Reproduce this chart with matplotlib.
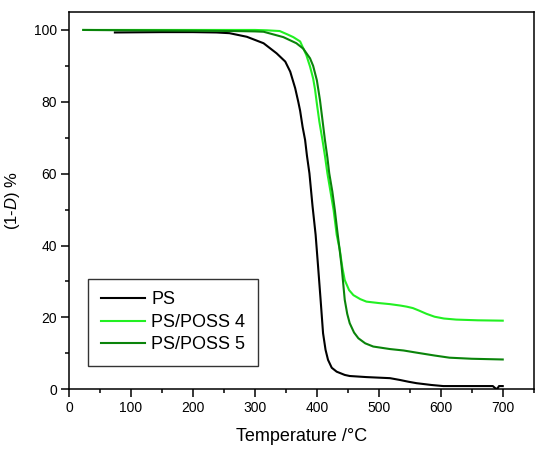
import matplotlib
matplotlib.use("Agg")
import matplotlib.pyplot as plt
from matplotlib.ticker import MultipleLocator

plt.rcParams['font.family'] = ['Liberation Sans', 'DejaVu Sans']
plt.rcParams['mathtext.fontset'] = 'custom'
plt.rcParams['mathtext.rm'] = 'Liberation Sans'
plt.rcParams['mathtext.it'] = 'Liberation Sans:italic'

# PS (black)
t_ps = [74, 150, 200, 238, 259, 287, 314, 335, 349, 357, 365, 370, 373, 377,
        381, 384, 388, 393, 398, 402, 406, 410, 414, 418, 424, 432, 445, 453, 480,
        518, 534, 548, 561, 585, 604, 640, 684, 688, 691, 694, 700]
v_ps = [99.3, 99.4, 99.4, 99.3, 99.1, 98.1, 96.3, 93.5, 91.2, 88.4, 83.8, 80, 77.5, 73,
        69.4, 65, 60.1, 51, 43, 34.1, 25, 15.6, 11, 8.2, 6.0, 4.9, 4.0, 3.7, 3.4,
        3.1, 2.6, 2.1, 1.7, 1.2, 0.9, 0.9, 0.9, 0.3, 0.1, 0.9, 0.9]

# PS/POSS 4 (bright green)
t_p4 = [23, 100, 200, 300, 319, 340, 352, 362, 373, 383, 389, 394, 397, 400, 404,
        409, 413, 417, 422, 427, 432, 437, 441, 445, 452, 459, 470, 480, 500, 518,
        535, 545, 555, 565, 577, 590, 605, 625, 660, 700]
v_p4 = [100, 100, 100, 100, 99.9, 99.7, 98.8, 98.0, 96.8, 93, 89.8, 86.5, 83.5, 79.5, 74.5,
        69.4, 65, 60.1, 55, 49.9, 43, 38.8, 34, 30.4, 27.6, 26.2, 25.1, 24.4, 24.0, 23.7,
        23.3, 23.0, 22.6, 21.9, 21.0, 20.2, 19.7, 19.4, 19.2, 19.1]

# PS/POSS 5 (dark green)
t_p5 = [23, 100, 200, 265, 300, 314, 346, 367, 378, 389, 394, 400, 405, 409, 413,
        417, 420, 425, 429, 433, 437, 440, 445, 449, 453, 460, 467, 478, 491, 518,
        540, 561, 590, 614, 650, 700]
v_p5 = [100, 99.9, 99.8, 99.7, 99.6, 99.5, 98.0, 96.3, 94.8, 92.1, 90, 86, 80.5, 75, 69.4,
        64.5, 60.1, 55, 49.9, 44, 38.5, 34.1, 24.9, 21, 18.4, 15.8, 14.2, 12.8, 11.9, 11.2,
        10.8, 10.2, 9.4, 8.8, 8.5, 8.3]

labels = ['PS', 'PS/POSS 4', 'PS/POSS 5']
colors = ['#000000', '#22f022', '#0a840a']

fig = plt.figure(figsize=(5.5, 4.54), dpi=100)
ax = fig.add_axes([0.1255, 0.1425, 0.8449, 0.8311])

ax.plot(t_ps, v_ps, color=colors[0], lw=1.5, label=labels[0])
ax.plot(t_p4, v_p4, color=colors[1], lw=1.5, label=labels[1])
ax.plot(t_p5, v_p5, color=colors[2], lw=1.5, label=labels[2])

ax.set_xlim(0, 750)
ax.set_ylim(0, 105)
ax.xaxis.set_major_locator(MultipleLocator(100))
ax.xaxis.set_minor_locator(MultipleLocator(50))
ax.yaxis.set_major_locator(MultipleLocator(20))
ax.yaxis.set_minor_locator(MultipleLocator(10))
ax.tick_params(which='major', direction='out', length=5.5, width=1.1, labelsize=10, pad=3)
ax.tick_params(which='minor', direction='out', length=3, width=1.1)
ax.tick_params(top=False, right=False)
for s in ax.spines.values():
    s.set_linewidth(1.1)

ax.set_xlabel('Temperature /°C', fontsize=13, labelpad=9)
ax.set_ylabel('(1-$\\mathit{D}$) %', fontsize=12, labelpad=9)

leg = ax.legend(loc='lower left', bbox_to_anchor=(0.041, 0.062), borderaxespad=0,
                fontsize=13, frameon=True, fancybox=False, edgecolor='black',
                handlelength=2.45, handletextpad=0.35, labelspacing=0.3,
                borderpad=0.7)
leg.get_frame().set_linewidth(1.0)

fig.savefig('out.png', dpi=100)
